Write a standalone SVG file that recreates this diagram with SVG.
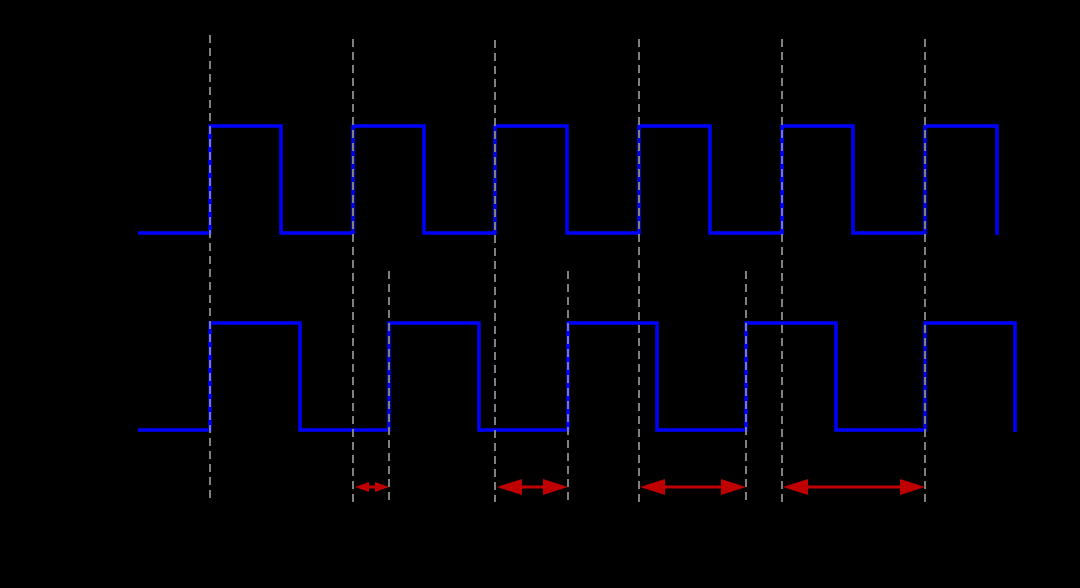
<svg xmlns="http://www.w3.org/2000/svg" width="1080" height="588" viewBox="0 0 1080 588">
<style>
.guide{stroke:#808080;stroke-width:2;stroke-dasharray:8,5;fill:none}
.sig{stroke:#0000ff;stroke-width:3.5;fill:none;stroke-linejoin:miter}
.dim{stroke:#c00000;stroke-width:3;fill:none}
.head{fill:#c00000}
</style>
<rect x="0" y="0" width="1080" height="588" fill="#000"/>
<g id="signal-top">
<path class="sig" d="M138,233 H210 V126 H281 V233 H353 V126 H424 V233 H495 V126 H567 V233 H639 V126 H710 V233 H782 V126 H853 V233 H925 V126 H997 V235"/>
</g>
<g id="signal-bottom">
<path class="sig" d="M138,430 H210 V323 H300 V430 H389 V323 H479 V430 H568 V323 H657 V430 H746 V323 H836 V430 H925 V323 H1015 V432"/>
</g>
<g id="guides">
<line class="guide" x1="210" y1="35" x2="210" y2="499"/>
<line class="guide" x1="353" y1="39" x2="353" y2="502"/>
<line class="guide" x1="495" y1="40" x2="495" y2="502"/>
<line class="guide" x1="639" y1="39" x2="639" y2="502"/>
<line class="guide" x1="782" y1="39" x2="782" y2="502"/>
<line class="guide" x1="925" y1="39" x2="925" y2="502"/>
<line class="guide" x1="389" y1="271" x2="389" y2="502"/>
<line class="guide" x1="568" y1="271" x2="568" y2="502"/>
<line class="guide" x1="746" y1="271" x2="746" y2="502"/>
</g>
<g id="connectors">
<g id="arrow1">
<line class="dim" x1="366" y1="487" x2="377" y2="487"/>
<polygon class="head" points="355,487 369,482 369,492"/>
<polygon class="head" points="389,487 375,482 375,492"/>
</g>
<g id="arrow2">
<line class="dim" x1="515" y1="487" x2="548" y2="487"/>
<polygon class="head" points="497,487 522,479 522,495"/>
<polygon class="head" points="568,487 543,479 543,495"/>
</g>
<g id="arrow3">
<line class="dim" x1="660" y1="487" x2="726" y2="487"/>
<polygon class="head" points="640,487 665,479 665,495"/>
<polygon class="head" points="746,487 721,479 721,495"/>
</g>
<g id="arrow4">
<line class="dim" x1="803" y1="487" x2="905" y2="487"/>
<polygon class="head" points="783,487 808,479 808,495"/>
<polygon class="head" points="925,487 900,479 900,495"/>
</g>
</g>
</svg>
